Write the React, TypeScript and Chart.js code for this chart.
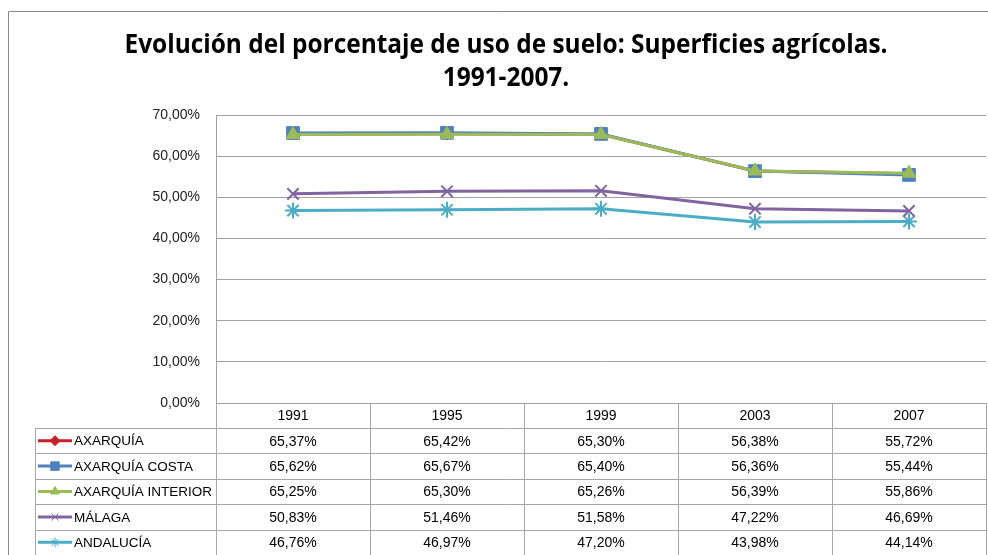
import React, { useEffect, useRef } from "react";
import { Chart, registerables } from "chart.js";
import { drawPoint } from "chart.js/helpers";

Chart.register(...registerables);

const titleLines = ["Evolución del porcentaje de uso de suelo: Superficies agrícolas.", "1991-2007."];
const years = ["1991", "1995", "1999", "2003", "2007"];
const seriesNames = ["AXARQUÍA", "AXARQUÍA COSTA", "AXARQUÍA INTERIOR", "MÁLAGA", "ANDALUCÍA"];
const axarquia = [65.37, 65.42, 65.30, 56.38, 55.72];
const axarquiaCosta = [65.62, 65.67, 65.40, 56.36, 55.44];
const axarquiaInterior = [65.25, 65.30, 65.26, 56.39, 55.86];
const malaga = [50.83, 51.46, 51.58, 47.22, 46.69];
const andalucia = [46.76, 46.97, 47.20, 43.98, 44.14];
const yTicks = [0, 10, 20, 30, 40, 50, 60, 70];

const seriesValues = [axarquia, axarquiaCosta, axarquiaInterior, malaga, andalucia];
const colors = ["#C8202A", "#4F81BD", "#9BBB59", "#8064A2", "#4BACC6"];
const pointStyles = ["rectRot", "rect", "triangle", "crossRot", "star"];
const radii = [6, 9, 8, 8, 8];
const orders = [2, 1, 0, 3, 4];

const FONT = '"Liberation Sans", Arial, sans-serif';
const fmt = (v: number) => v.toFixed(2).replace(".", ",") + "%";

const decorPlugin = {
  id: "decor",
  beforeDraw(chart: any) {
    const ctx = chart.ctx;
    ctx.save();
    ctx.fillStyle = "#ffffff";
    ctx.fillRect(0, 0, chart.width, chart.height);
    ctx.strokeStyle = "#898989";
    ctx.lineWidth = 1;
    ctx.beginPath();
    ctx.moveTo(8.5, chart.height + 5);
    ctx.lineTo(8.5, 11.5);
    ctx.lineTo(chart.width + 5, 11.5);
    ctx.stroke();
    ctx.fillStyle = "#000";
    ctx.textAlign = "center";
    ctx.textBaseline = "middle";
    const target = 763;
    ctx.font = 'bold 27px "Open Sans", sans-serif';
    const w = ctx.measureText(titleLines[0]).width;
    const sx = target / w;
    const cx = 506;
    ctx.save();
    ctx.translate(cx, 0);
    ctx.scale(sx, 1);
    ctx.fillText(titleLines[0], 0, 45);
    ctx.fillText(titleLines[1], 0, 78);
    ctx.restore();
    ctx.restore();
  },
  afterDraw(chart: any) {
    const ctx = chart.ctx;
    const area = chart.chartArea;
    const xs = chart.scales.x;
    const n = years.length;
    const centers = years.map((_, i) => xs.getPixelForValue(i));
    const bounds: number[] = [area.left];
    for (let i = 1; i < n; i++) bounds.push((centers[i - 1] + centers[i]) / 2);
    bounds.push(area.right);
    const top = area.bottom;
    const headerH = 25;
    const rowH = (chart.height - (top + headerH)) / seriesNames.length;
    const tableLeft = 35;
    const al = (v: number) => Math.round(v) + 0.5;

    ctx.save();
    ctx.strokeStyle = "#A6A6A6";
    ctx.lineWidth = 1;
    ctx.beginPath();
    for (let i = 0; i <= n; i++) {
      ctx.moveTo(al(bounds[i]), top);
      ctx.lineTo(al(bounds[i]), chart.height);
    }
    ctx.moveTo(al(tableLeft), top + headerH);
    ctx.lineTo(al(tableLeft), chart.height);
    for (let r = 0; r <= seriesNames.length; r++) {
      const y = al(top + headerH + r * rowH);
      ctx.moveTo(tableLeft, y);
      ctx.lineTo(area.right, y);
    }
    ctx.stroke();

    ctx.fillStyle = "#000";
    ctx.font = "14px " + FONT;
    ctx.textBaseline = "middle";
    ctx.textAlign = "center";
    years.forEach((y, i) => ctx.fillText(y, centers[i], top + headerH / 2 + 1));
    seriesNames.forEach((name, r) => {
      const cy = top + headerH + r * rowH + rowH / 2 + 1;
      ctx.textAlign = "center";
      ctx.fillStyle = "#000";
      ctx.font = "14px " + FONT;
      seriesValues[r].forEach((v, i) => ctx.fillText(fmt(v), centers[i], cy));
      ctx.strokeStyle = colors[r];
      ctx.fillStyle = colors[r];
      ctx.lineWidth = 3;
      ctx.beginPath();
      ctx.moveTo(tableLeft + 3, cy - 1);
      ctx.lineTo(tableLeft + 37, cy - 1);
      ctx.stroke();
      ctx.lineWidth = 1;
      drawPoint(ctx, { pointStyle: pointStyles[r], rotation: 0, radius: r === 1 ? 6 : 5, borderWidth: 1 }, tableLeft + 20, cy - 1);
      ctx.fillStyle = "#000";
      ctx.textAlign = "left";
      ctx.font = "13.5px " + FONT;
      ctx.fillText(name, tableLeft + 39, cy);
    });
    ctx.restore();
  },
};

export default function App() {
  const ref = useRef<HTMLCanvasElement>(null);
  useEffect(() => {
    document.body.style.margin = "0";
    const chart = new Chart(ref.current as HTMLCanvasElement, {
      type: "line",
      data: {
        labels: years,
        datasets: seriesNames.map((name, i) => ({
          label: name,
          data: seriesValues[i],
          borderColor: colors[i],
          backgroundColor: colors[i],
          pointBackgroundColor: colors[i],
          pointBorderColor: colors[i],
          borderWidth: 3,
          pointStyle: pointStyles[i] as any,
          pointRadius: radii[i],
          pointBorderWidth: i >= 3 ? 2 : 1,
          order: orders[i],
          tension: 0,
        })),
      },
      options: {
        responsive: false,
        animation: false,
        devicePixelRatio: 1,
        layout: { autoPadding: false, padding: { left: 0, right: 2, top: 115, bottom: 152 } },
        plugins: { legend: { display: false }, title: { display: false }, tooltip: { enabled: false } },
        scales: {
          x: { type: "category", display: false, offset: true, grid: { display: false } },
          y: {
            min: 0,
            max: 70,
            afterBuildTicks: (scale: any) => {
              scale.ticks = yTicks.map((v) => ({ value: v }));
            },
            afterFit: (scale: any) => {
              scale.width = 216;
            },
            grid: { color: "#A0A0A0", drawTicks: false, lineWidth: 1 },
            border: { display: true, color: "#A0A0A0" },
            ticks: {
              padding: 16,
              color: "#222",
              font: { family: FONT, size: 14 },
              callback: (v: any) => fmt(Number(v)),
            },
          },
        },
      },
      plugins: [decorPlugin],
    });
    return () => chart.destroy();
  }, []);
  return (
    <div style={{ width: 988, height: 555 }}>
      <canvas ref={ref} width={988} height={555} style={{ display: "block" }} />
    </div>
  );
}
